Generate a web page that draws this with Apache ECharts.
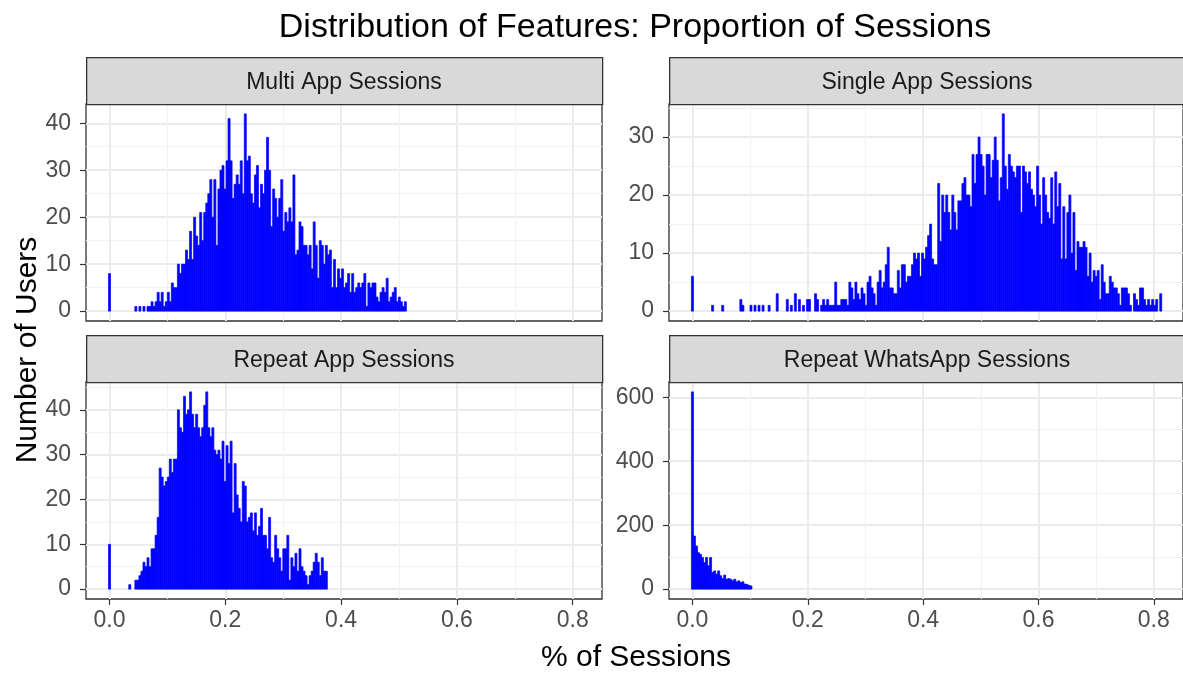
<!DOCTYPE html>
<html>
<head>
<meta charset="utf-8">
<title>Distribution of Features</title>
<script src="https://cdn.jsdelivr.net/npm/echarts@6/dist/echarts.min.js"></script>
<style>
  html, body { margin: 0; padding: 0; background: #fff; }
  #main { width: 1183px; height: 673px; }
</style>
</head>
<body>
<div id="main"></div>
<script>
// histogram bins: bin k is centred on k * binWidth
var binWidth = 0.0035;
var facetNames = ["Multi App Sessions", "Single App Sessions", "Repeat App Sessions", "Repeat WhatsApp Sessions"];

var multiCounts = [8,
  0,0,0,0,0,0,0,0,0,0,0,0,
  1,0,1,0,1,0,
  1,1,2,1,2,4,2,4,1,2,4,2,6,5,5,10,8,10,10,13,11,17,11,20,16,14,21,15,21,23,25,28,20,28,14,26,30,31,26,32,
  41,32,24,27,29,27,32,25,42,32,33,25,23,29,31,22,27,25,30,
  37,30,18,26,24,20,24,28,17,21,19,22,
  19,29,12,13,19,18,14,14,12,14,9,19,14,7,15,14,10,14,12,13,5,11,5,9,7,9,5,6,8,4,8,4,5,6,5,6,8,1,6,5,
  6,6,3,2,4,5,4,7,2,3,4,5,2,3,2,1,2];

var singleCounts = [6,
  0,0,0,0,0,0,0,0,0,
  1,0,0,0,0,1,0,0,0,0,0,0,0,0,
  2,1,0,0,0,1,0,1,0,1,
  0,1,0,0,1,0,0,0,3,0,
  0,0,0,2,0,1,0,3,0,2,
  0,1,0,2,2,0,0,3,2,0,
  1,2,1,2,1,1,1,5,1,1,
  2,2,2,1,5,4,2,5,3,2,
  4,3,1,5,6,4,3,1,5,7,
  4,5,8,11,4,4,3,3,7,
  4,8,8,5,6,6,8,10,9,10,6,10,9,11,13,15,9,8,8,22,12,20,17,20,17,14,20,17,14,19,
  19,22,23,20,20,18,27,22,27,30,27,25,20,27,27,23,26,30,26,19,23,34,25,21,27,25,24,23,25,25,17,25,24,22,
  24,21,20,18,25,20,15,23,20,17,16,23,15,24,18,22,9,18,9,17,20,10,17,7,12,11,11,12,11,6,
  10,5,7,6,7,2,8,5,3,3,6,5,4,4,3,1,4,4,4,3,1,0,3,2,1,4,4,2,1,2,1,2,1,2,0,3];

var repeatCounts = [10,
  0,0,0,0,0,0,0,0,0,
  1,0,0,
  2,2,3,4,6,5,7,5,9,9,12,16,27,25,23,24,25,29,26,29,29,40,36,35,43,39,40,44,39,36,39,36,
  34,36,41,44,36,34,36,31,30,31,29,33,24,32,28,
  33,17,28,21,18,15,24,23,15,16,17,13,17,
  12,14,18,12,12,9,16,7,6,12,9,7,4,9,9,12,2,
  7,5,8,4,9,5,4,3,1,3,4,6,8,6,3,7,4,4];

var whatsappCounts = [617,166,135,114,109,99,83,99,73,99,52,57,47,57,42,33,44,31,33,31,26,31,23,26,21,23,16,15,12,10];

var xTicks = [0, 0.2, 0.4, 0.6, 0.8];
var xMinorTicks = [0.1, 0.3, 0.5, 0.7];
var yTicks = [[0,10,20,30,40], [0,10,20,30], [0,10,20,30,40], [0,200,400,600]];
var yMinorTicks = [[5,15,25,35], [5,15,25,35], [5,15,25,35,45], [100,300,500]];

var allCounts = [multiCounts, singleCounts, repeatCounts, whatsappCounts];

// panel placement (pixels)
var panels = [
  {left: 86, top: 104, bottomRow: false},
  {left: 669, top: 104, bottomRow: false},
  {left: 86, top: 382, bottomRow: true},
  {left: 669, top: 382, bottomRow: true}
];
var panelW = 516, panelH = 217, stripH = 47;
var xMin = -0.0406, xMax = 0.8506;
var font = "'Liberation Sans', Arial, sans-serif";

function toBins(counts) {
  var out = [];
  for (var k = 0; k < counts.length; k++) {
    if (counts[k] > 0) out.push([k * binWidth, counts[k]]);
  }
  return out;
}

function renderBar(params, api) {
  var x = api.value(0), y = api.value(1);
  var p0 = api.coord([x - binWidth / 2, 0]);
  var p1 = api.coord([x + binWidth / 2, y]);
  return {
    type: 'rect',
    shape: {x: p0[0], y: p1[1], width: p1[0] - p0[0], height: p0[1] - p1[1]},
    style: {fill: '#0000FF', stroke: '#0000FF', lineWidth: 0.7}
  };
}

var grids = [], xAxes = [], yAxes = [], series = [], graphics = [];

for (var i = 0; i < 4; i++) {
  var p = panels[i];
  var ymax = Math.max.apply(null, allCounts[i]);
  grids.push({left: p.left, top: p.top, width: panelW, height: panelH,
    show: true, borderColor: '#333333', borderWidth: 1.3, backgroundColor: 'transparent'});

  xAxes.push({
    type: 'value', gridIndex: i, min: xMin, max: xMax, position: 'bottom',
    axisLine: {show: false, onZero: false},
    axisTick: {show: p.bottomRow, customValues: xTicks, length: 6, lineStyle: {color: '#333333', width: 1.2}},
    axisLabel: {show: p.bottomRow, customValues: xTicks, margin: 10, color: '#4D4D4D',
      fontSize: 23, fontFamily: font, formatter: function (v) { return v.toFixed(1); }},
    splitLine: {show: true, lineStyle: {color: '#EBEBEB', width: 2}}
  });
  yAxes.push({
    type: 'value', gridIndex: i, min: -0.05 * ymax, max: 1.05 * ymax, position: 'left',
    axisLine: {show: false, onZero: false},
    axisTick: {show: true, customValues: yTicks[i], length: 6, lineStyle: {color: '#333333', width: 1.2}},
    axisLabel: {show: true, customValues: yTicks[i], margin: 15, color: '#4D4D4D',
      fontSize: 23, fontFamily: font},
    splitLine: {show: true, lineStyle: {color: '#EBEBEB', width: 2}}
  });

  series.push({
    type: 'custom', xAxisIndex: i, yAxisIndex: i,
    renderItem: renderBar, encode: {x: 0, y: 1},
    data: toBins(allCounts[i]), clip: true, z: 5
  });

  // facet strip
  graphics.push({
    type: 'rect', left: p.left, top: p.top - stripH,
    shape: {width: panelW, height: stripH},
    style: {fill: '#D9D9D9', stroke: '#333333', lineWidth: 1.3}, z: 10
  });
  graphics.push({
    type: 'text', x: p.left + panelW / 2, y: p.top - stripH / 2 + 2,
    style: {text: facetNames[i], textAlign: 'center', textVerticalAlign: 'middle',
      fill: '#1A1A1A', font: '23px ' + font}, z: 11
  });
}

// minor grid lines via hidden secondary axes
for (var j = 0; j < 4; j++) {
  var ym = Math.max.apply(null, allCounts[j]);
  xAxes.push({
    type: 'value', gridIndex: j, min: xMin, max: xMax, position: 'top',
    axisLine: {show: false, onZero: false}, axisLabel: {show: false},
    axisTick: {show: false, customValues: xMinorTicks},
    splitLine: {show: true, lineStyle: {color: '#F2F2F2', width: 1.2}}
  });
  yAxes.push({
    type: 'value', gridIndex: j, min: -0.05 * ym, max: 1.05 * ym, position: 'right',
    axisLine: {show: false, onZero: false}, axisLabel: {show: false},
    axisTick: {show: false, customValues: yMinorTicks[j]},
    splitLine: {show: true, lineStyle: {color: '#F2F2F2', width: 1.2}}
  });
}

graphics.push({
  type: 'text', x: 635, y: 28,
  style: {text: 'Distribution of Features: Proportion of Sessions', textAlign: 'center',
    textVerticalAlign: 'middle', fill: '#000000', font: '34px ' + font}
});
graphics.push({
  type: 'text', x: 636, y: 658,
  style: {text: '% of Sessions', textAlign: 'center', textVerticalAlign: 'middle',
    fill: '#000000', font: '30px ' + font}
});
graphics.push({
  type: 'text', x: 28, y: 350, rotation: Math.PI / 2,
  style: {text: 'Number of Users', textAlign: 'center', textVerticalAlign: 'middle',
    fill: '#000000', font: '30px ' + font}
});

var chart = echarts.init(document.getElementById('main'), null, {renderer: 'canvas'});
chart.setOption({
  animation: false,
  backgroundColor: '#FFFFFF',
  grid: grids,
  xAxis: xAxes,
  yAxis: yAxes,
  series: series,
  graphic: graphics
});
</script>
</body>
</html>
